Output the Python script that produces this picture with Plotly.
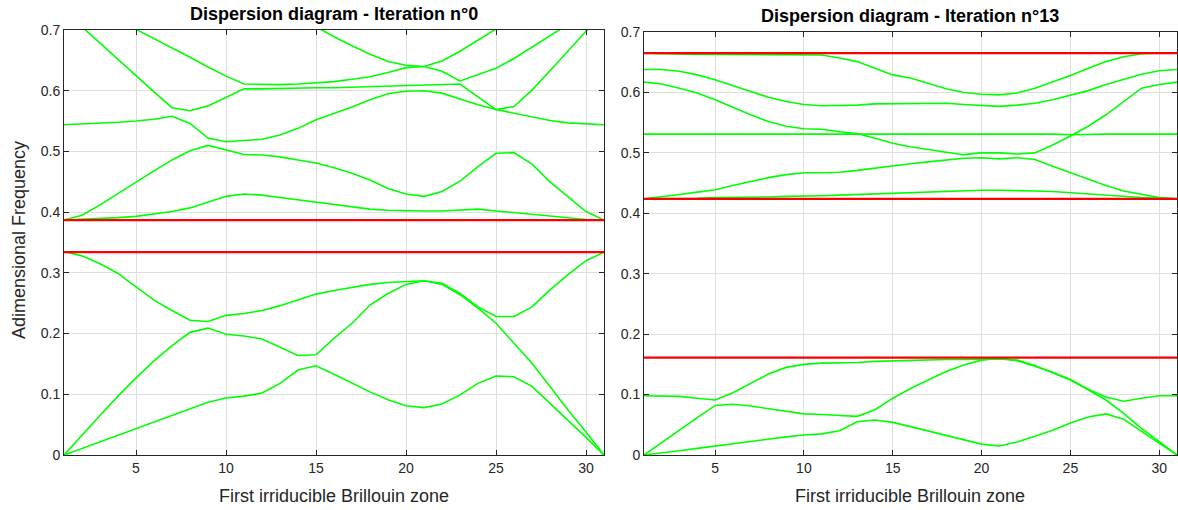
import plotly.graph_objects as go

k = list(range(1, 32))

# Iteration 0 bands
L1 = [0, 0.011, 0.022, 0.033, 0.044, 0.055, 0.066, 0.077, 0.087, 0.094, 0.097, 0.102, 0.118, 0.140, 0.147, 0.133, 0.118, 0.104, 0.091, 0.081, 0.078, 0.084, 0.099, 0.118, 0.130, 0.129, 0.113, 0.085, 0.058, 0.029, 0]
L2 = [0, 0.033, 0.065, 0.097, 0.127, 0.155, 0.180, 0.202, 0.209, 0.199, 0.196, 0.191, 0.178, 0.164, 0.165, 0.192, 0.217, 0.247, 0.266, 0.281, 0.287, 0.281, 0.264, 0.242, 0.217, 0.184, 0.151, 0.113, 0.074, 0.038, 0]
L3 = [0.335, 0.328, 0.315, 0.299, 0.277, 0.255, 0.238, 0.222, 0.220, 0.230, 0.233, 0.238, 0.246, 0.255, 0.265, 0.271, 0.276, 0.281, 0.284, 0.285, 0.287, 0.283, 0.266, 0.244, 0.228, 0.228, 0.244, 0.272, 0.297, 0.320, 0.334]
L4 = [0.387, 0.388, 0.389, 0.391, 0.393, 0.397, 0.401, 0.407, 0.417, 0.426, 0.430, 0.428, 0.424, 0.420, 0.416, 0.412, 0.408, 0.405, 0.403, 0.402, 0.402, 0.402, 0.403, 0.405, 0.402, 0.399, 0.396, 0.393, 0.390, 0.388, 0.387]
L5 = [0.387, 0.395, 0.412, 0.431, 0.450, 0.468, 0.486, 0.501, 0.510, 0.502, 0.495, 0.494, 0.491, 0.486, 0.481, 0.473, 0.464, 0.453, 0.439, 0.430, 0.426, 0.434, 0.451, 0.475, 0.497, 0.498, 0.479, 0.450, 0.426, 0.401, 0.387]
L6 = [0.544, 0.545, 0.546, 0.548, 0.550, 0.553, 0.558, 0.546, 0.522, 0.516, 0.518, 0.520, 0.527, 0.538, 0.552, 0.562, 0.573, 0.585, 0.595, 0.599, 0.600, 0.596, 0.586, 0.577, 0.569, 0.563, 0.556, 0.551, 0.547, 0.545, 0.544]
L7 = [0.732, 0.705, 0.678, 0.651, 0.624, 0.598, 0.572, 0.567, 0.575, 0.589, 0.603, 0.603, 0.604, 0.604, 0.605, 0.605, 0.606, 0.606, 0.607, 0.608, 0.609, 0.610, 0.611, 0.590, 0.569, 0.574, 0.601, 0.633, 0.665, 0.698, 0.725]
L8 = [0.755, 0.741, 0.728, 0.714, 0.701, 0.686, 0.670, 0.655, 0.639, 0.624, 0.611, 0.610, 0.610, 0.611, 0.613, 0.615, 0.619, 0.623, 0.630, 0.638, 0.640, 0.649, 0.665, 0.683, 0.701, 0.720, None, None, None, None, None]
L9 = [None] * 13 + [0.722, 0.705, 0.689, 0.674, 0.660, 0.648, 0.642, 0.640, 0.632, 0.616, 0.626, 0.637, 0.653, 0.672, 0.691, 0.710, 0.728, None]
gaps_left = [0.334, 0.387]

# Iteration 13 bands
R1 = [0, 0.003, 0.007, 0.011, 0.015, 0.019, 0.023, 0.027, 0.030, 0.033, 0.035, 0.040, 0.055, 0.058, 0.054, 0.047, 0.040, 0.033, 0.025, 0.018, 0.015, 0.0215, 0.031, 0.041, 0.053, 0.063, 0.068, 0.059, 0.039, 0.019, 0]
R2 = [0, 0.021, 0.042, 0.062, 0.082, 0.084, 0.081, 0.077, 0.072, 0.068, 0.067, 0.066, 0.064, 0.075, 0.094, 0.110, 0.124, 0.138, 0.149, 0.157, 0.160, 0.156, 0.147, 0.137, 0.125, 0.109, 0.096, 0.089, 0.094, 0.098, 0.098]
R3 = [0.098, 0.098, 0.097, 0.094, 0.091, 0.103, 0.119, 0.134, 0.145, 0.150, 0.152, 0.152, 0.153, 0.155, 0.156, 0.157, 0.157, 0.158, 0.158, 0.159, 0.159, 0.157, 0.148, 0.136, 0.124, 0.108, 0.091, 0.069, 0.044, 0.022, 0]
R4 = [0.424, 0.424, 0.425, 0.425, 0.426, 0.426, 0.427, 0.427, 0.428, 0.428, 0.429, 0.430, 0.431, 0.432, 0.433, 0.435, 0.436, 0.437, 0.437, 0.438, 0.438, 0.438, 0.437, 0.436, 0.434, 0.432, 0.429, 0.427, 0.426, 0.425, 0.424]
R5 = [0.424, 0.427, 0.431, 0.435, 0.439, 0.446, 0.453, 0.459, 0.464, 0.467, 0.467, 0.468, 0.471, 0.475, 0.478, 0.482, 0.485, 0.488, 0.491, 0.492, 0.490, 0.492, 0.489, 0.478, 0.467, 0.457, 0.446, 0.437, 0.431, 0.426, 0.424]
R6 = [0.531, 0.531, 0.531, 0.531, 0.531, 0.531, 0.531, 0.531, 0.531, 0.531, 0.532, 0.532, 0.532, 0.532, 0.532, 0.532, 0.532, 0.532, 0.532, 0.532, 0.532, 0.532, 0.532, 0.531, 0.530, 0.531, 0.531, 0.531, 0.531, 0.531, 0.531]
R7 = [0.617, 0.614, 0.607, 0.599, 0.588, 0.575, 0.563, 0.552, 0.544, 0.540, 0.539, 0.535, 0.532, 0.524, 0.516, 0.510, 0.505, 0.501, 0.497, 0.500, 0.500, 0.498, 0.500, 0.513, 0.528, 0.544, 0.563, 0.585, 0.607, 0.613, 0.617]
R8 = [0.638, 0.638, 0.635, 0.629, 0.621, 0.611, 0.602, 0.592, 0.585, 0.580, 0.578, 0.578, 0.579, 0.581, 0.581, 0.582, 0.582, 0.582, 0.580, 0.578, 0.577, 0.579, 0.582, 0.588, 0.595, 0.603, 0.613, 0.622, 0.630, 0.636, 0.638]
R9 = [0.665, 0.664, 0.664, 0.663, 0.663, 0.663, 0.663, 0.663, 0.663, 0.663, 0.662, 0.657, 0.651, 0.640, 0.629, 0.624, 0.615, 0.606, 0.600, 0.597, 0.596, 0.599, 0.607, 0.617, 0.628, 0.640, 0.651, 0.659, 0.664, 0.665, 0.665]
gaps_right = [0.161, 0.424, 0.665]

titles = ["Dispersion diagram - Iteration n°0", "Dispersion diagram - Iteration n°13"]
xlabel = "First irriducible Brillouin zone"
ylabel = "Adimensional Frequency"

GREEN = "rgb(0,255,0)"
RED = "rgb(255,0,0)"
W, H = 1178, 510
FONT = "Liberation Sans, Arial, sans-serif"

fig = go.Figure()
for band in [L1, L2, L3, L4, L5, L6, L7, L8, L9]:
    fig.add_trace(go.Scatter(x=k, y=band, mode="lines", line=dict(color=GREEN, width=1.6),
                             xaxis="x", yaxis="y", showlegend=False, connectgaps=False))
for g in gaps_left:
    fig.add_trace(go.Scatter(x=[k[0], k[-1]], y=[g, g], mode="lines", line=dict(color=RED, width=2.2),
                             xaxis="x", yaxis="y", showlegend=False))
for band in [R1, R2, R3, R4, R5, R6, R7, R8, R9]:
    fig.add_trace(go.Scatter(x=k, y=band, mode="lines", line=dict(color=GREEN, width=1.6),
                             xaxis="x2", yaxis="y2", showlegend=False))
for g in gaps_right:
    fig.add_trace(go.Scatter(x=[k[0], k[-1]], y=[g, g], mode="lines", line=dict(color=RED, width=2.2),
                             xaxis="x2", yaxis="y2", showlegend=False))

axis_common = dict(showline=True, linecolor="#262626", linewidth=1, mirror="ticks",
                   ticks="inside", ticklen=5, tickcolor="#262626", automargin=False,
                   showgrid=True, gridcolor="#dfdfdf", gridwidth=1, zeroline=False,
                   tickfont=dict(family=FONT, size=14, color="#262626"))

xd1 = [64 / W, 604 / W]
xd2 = [644 / W, 1177 / W]
yd1 = [(H - 455) / H, (H - 30) / H]
yd2 = [(H - 455) / H, (H - 32) / H]

fig.update_layout(
    width=W, height=H, autosize=False,
    margin=dict(l=0, r=0, t=0, b=0, pad=0, autoexpand=False),
    paper_bgcolor="white", plot_bgcolor="white", showlegend=False,
    xaxis=dict(domain=xd1, range=[1, 31], tick0=0, dtick=5, anchor="y", **axis_common),
    yaxis=dict(domain=yd1, range=[0, 0.7], tick0=0, dtick=0.1, anchor="x", **axis_common),
    xaxis2=dict(domain=xd2, range=[1, 31], tick0=0, dtick=5, anchor="y2", **axis_common),
    yaxis2=dict(domain=yd2, range=[0, 0.7], tick0=0, dtick=0.1, anchor="x2", **axis_common),
)

ann_font = dict(family=FONT, color="#262626")
annotations = [
    dict(text="<b>" + titles[0] + "</b>", x=334 / W, y=1 - 14 / H, xref="paper", yref="paper",
         showarrow=False, xanchor="center", yanchor="middle", font=dict(size=18, color="black", family=FONT)),
    dict(text="<b>" + titles[1] + "</b>", x=910 / W, y=1 - 16 / H, xref="paper", yref="paper",
         showarrow=False, xanchor="center", yanchor="middle", font=dict(size=18, color="black", family=FONT)),
    dict(text=xlabel, x=334 / W, y=1 - 496 / H, xref="paper", yref="paper", showarrow=False,
         xanchor="center", yanchor="middle", font=dict(size=18, **ann_font)),
    dict(text=xlabel, x=910 / W, y=1 - 496 / H, xref="paper", yref="paper", showarrow=False,
         xanchor="center", yanchor="middle", font=dict(size=18, **ann_font)),
    dict(text=ylabel, x=19 / W, y=1 - 240 / H, xref="paper", yref="paper", showarrow=False,
         textangle=-90, xanchor="center", yanchor="middle", font=dict(size=18, **ann_font)),
]
fig.update_layout(annotations=annotations)

fig.write_html("out.html", config={"displayModeBar": False, "responsive": False},
               post_script="document.body.style.margin='0px';document.body.style.overflow='hidden';")
